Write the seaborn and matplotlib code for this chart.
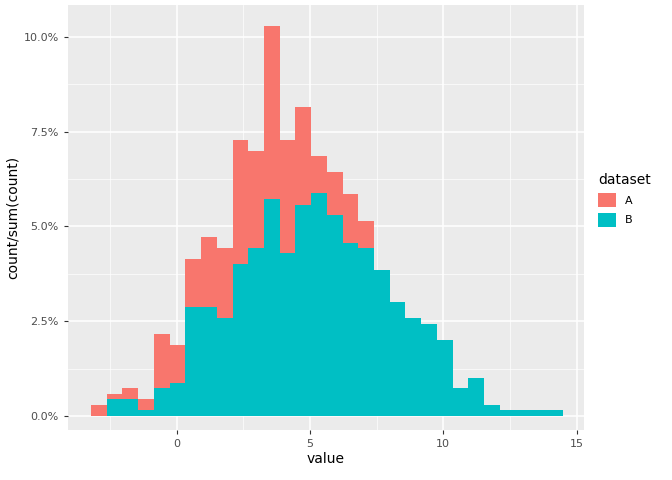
import matplotlib
matplotlib.use("Agg")
import matplotlib.pyplot as plt
import seaborn as sns
import pandas as pd
import numpy as np
from matplotlib.ticker import FuncFormatter, MultipleLocator
from matplotlib.patches import Patch

# histogram bins (30 bins)
bin_start = -3.22
bin_width = 0.59
n_bins = 30
# stacked totals (top of bar, %) and B share (%)
total_top = [0.29, 0.58, 0.74, 0.45, 2.16, 1.87, 4.14, 4.72, 4.43, 7.28, 6.99, 10.29, 7.28, 8.15, 6.86,
             6.44, 5.86, 5.15, 3.85, 3.01, 2.59, 2.43, 2.01, 0.74, 1.00, 0.29, 0.16, 0.16, 0.16, 0.16]
b_vals = [0.0, 0.45, 0.45, 0.17, 0.74, 0.87, 2.88, 2.88, 2.59, 4.01, 4.43, 5.73, 4.30, 5.57, 5.87,
          5.30, 4.56, 4.43, 3.85, 3.01, 2.59, 2.43, 2.01, 0.74, 1.00, 0.29, 0.16, 0.16, 0.16, 0.16]
a_vals = [round(t - b, 2) for t, b in zip(total_top, b_vals)]

bin_end = bin_start + bin_width * n_bins
centers = bin_start + bin_width * (np.arange(n_bins) + 0.5)
df = pd.DataFrame({
    "value": np.concatenate([centers, centers]),
    "pct": np.concatenate([a_vals, b_vals]),
    "dataset": ["A"] * n_bins + ["B"] * n_bins,
})

colA, colB = "#F8766D", "#00BFC4"
fig = plt.figure(figsize=(6.72, 4.8), dpi=100)
ax = fig.add_axes([0.101, 0.104, 0.768, 0.886])
ax.set_facecolor("#EBEBEB")
sns.histplot(data=df, x="value", weights="pct", hue="dataset", hue_order=["A", "B"],
             multiple="stack", binwidth=bin_width, binrange=(bin_start, bin_end),
             palette=[colA, colB], alpha=1, linewidth=0,
             element="bars", ax=ax, legend=False, zorder=3)
ax.set_xlim(-4.09, 15.28)
ax.set_ylim(-0.37, 10.84)
ax.xaxis.set_major_locator(MultipleLocator(5))
ax.xaxis.set_minor_locator(MultipleLocator(2.5))
ax.yaxis.set_major_locator(MultipleLocator(2.5))
ax.yaxis.set_minor_locator(MultipleLocator(1.25))
ax.yaxis.set_major_formatter(FuncFormatter(lambda v, p: f"{v:.1f}%"))
ax.grid(which="major", color="white", linewidth=1.1, zorder=0)
ax.grid(which="minor", color="white", linewidth=0.5, zorder=0)
ax.set_axisbelow(True)
for s in ax.spines.values():
    s.set_visible(False)
ax.tick_params(which="major", length=3, color="#333333", labelsize=8, labelcolor="#4D4D4D")
ax.tick_params(which="minor", length=0)
ax.set_xlabel("value", fontsize=10, labelpad=2)
ax.set_ylabel("count/sum(count)", fontsize=10, labelpad=3)
handles = [Patch(facecolor=colA, label="A"), Patch(facecolor=colB, label="B")]
leg = fig.legend(handles=handles, title="dataset", loc="upper left", bbox_to_anchor=(0.875, 0.66),
                 frameon=False, fontsize=8, title_fontsize=10, handlelength=1.6, handleheight=1.6,
                 alignment="left")
fig.savefig("out.png", dpi=100)
